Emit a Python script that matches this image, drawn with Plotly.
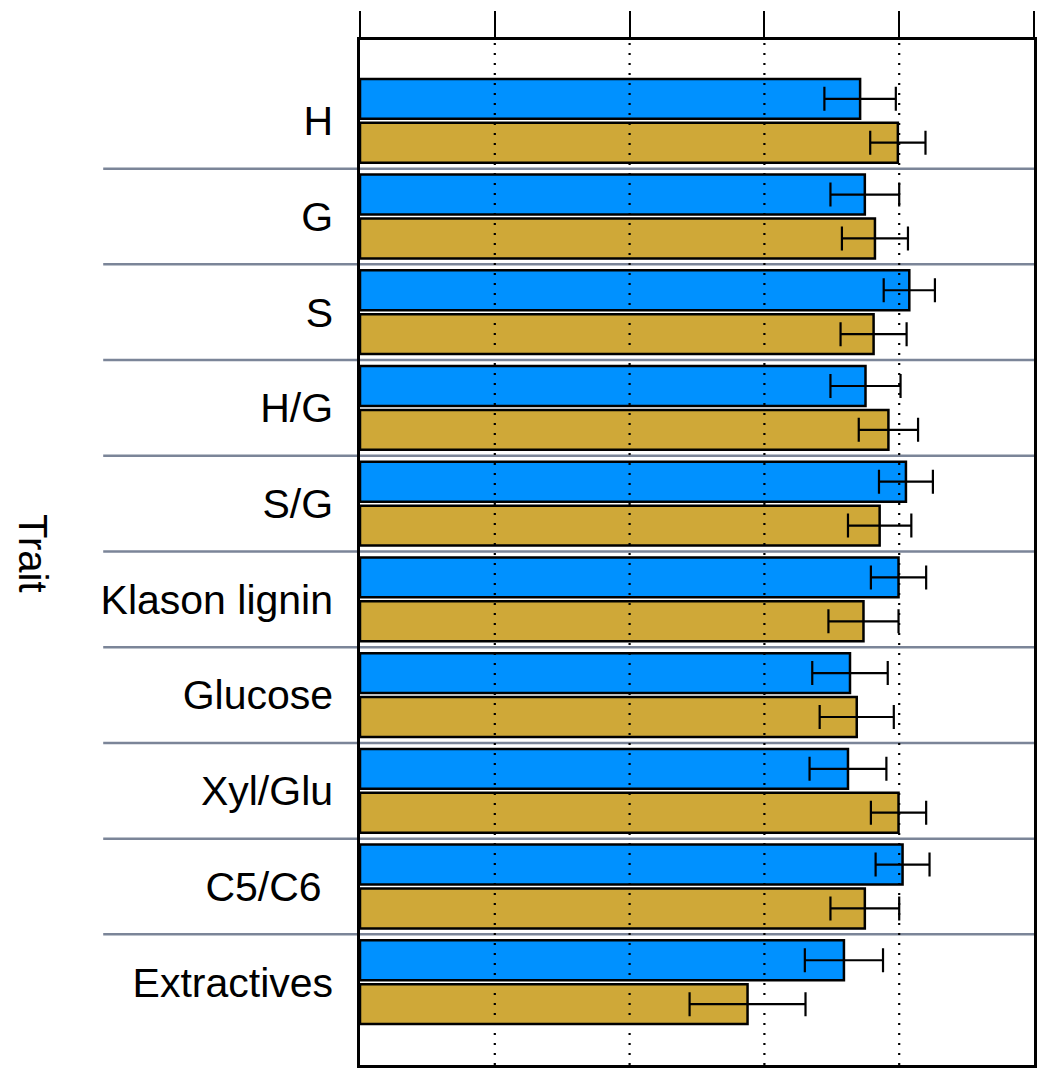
import plotly.graph_objects as go

# Trait categories (top to bottom) and the two groups compared per trait
traits = ["H", "G", "S", "H/G", "S/G", "Klason lignin", "Glucose", "Xyl/Glu",
          "C5/C6\u00a0", "Extractives"]

blue_vals = [0.742, 0.749, 0.815, 0.750, 0.810, 0.799, 0.727, 0.724, 0.805, 0.718]
blue_err = [0.053, 0.051, 0.038, 0.052, 0.040, 0.041, 0.056, 0.057, 0.040, 0.058]

gold_vals = [0.798, 0.764, 0.762, 0.784, 0.771, 0.747, 0.737, 0.799, 0.749, 0.575]
gold_err = [0.041, 0.049, 0.049, 0.044, 0.047, 0.052, 0.055, 0.041, 0.051, 0.086]

x_ticks = [0, 0.2, 0.4, 0.6, 0.8, 1.0]

BLUE = "#0091FF"
GOLD = "#CFA838"
SEP = "#7B8598"
FONT = "Liberation Sans"

fig = go.Figure()

for vals, errs, color in [(blue_vals, blue_err, BLUE), (gold_vals, gold_err, GOLD)]:
    fig.add_trace(go.Bar(
        y=traits, x=vals, orientation="h",
        marker=dict(color=color, line=dict(color="black", width=2.5)),
        error_x=dict(type="data", array=errs, visible=True,
                     color="black", thickness=2.2, width=12),
        showlegend=False,
    ))

# Separator lines between trait groups, extending into the label column
for i in range(len(traits) - 1):
    fig.add_shape(type="line", xref="paper", yref="y",
                  x0=-0.381, x1=1.0, y0=i + 0.5, y1=i + 0.5,
                  line=dict(color=SEP, width=2.5), layer="below")

# Dotted reference lines at the inner ticks, drawn over the bars
for t in x_ticks[1:-1]:
    fig.add_shape(type="line", xref="x", yref="paper",
                  x0=t, x1=t, y0=0, y1=1,
                  line=dict(color="black", width=2.2, dash="2px,8px"),
                  layer="above")

fig.add_annotation(text="Trait", xref="paper", yref="paper",
                   x=-0.4845, y=0.499, xanchor="center", yanchor="middle",
                   textangle=90, showarrow=False,
                   font=dict(size=40, color="black", family=FONT))

fig.update_layout(
    width=1046, height=1077,
    margin=dict(l=360, r=9, t=40, b=9),
    plot_bgcolor="white", paper_bgcolor="white",
    barmode="group", bargap=0.083, bargroupgap=0.091,
    font=dict(family=FONT, size=41, color="black"),
    xaxis=dict(
        side="top", range=[0, 1], tickvals=x_ticks, showticklabels=False,
        ticks="outside", ticklen=26, tickwidth=2, tickcolor="black",
        showline=True, linecolor="black", linewidth=2.5, mirror=True,
        showgrid=False, zeroline=False,
    ),
    yaxis=dict(
        range=[9.865, -0.844], type="category",
        ticks="outside", ticklen=16, tickcolor="rgba(0,0,0,0)",
        showline=True, linecolor="black", linewidth=2.5, mirror=True,
        showgrid=False, zeroline=False,
        tickfont=dict(size=41, family=FONT, color="black"),
    ),
)

fig.write_html("out.html")
